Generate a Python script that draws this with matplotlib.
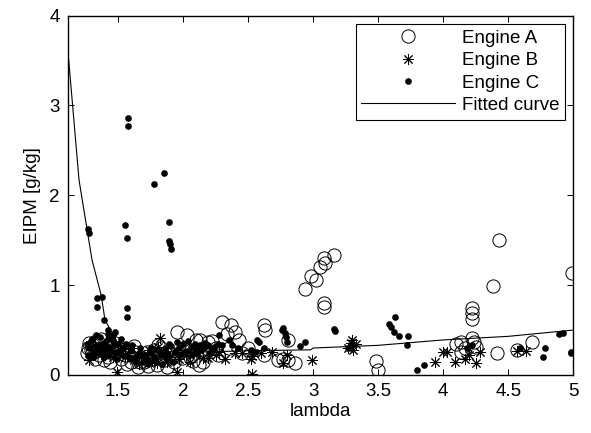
import matplotlib
matplotlib.use("Agg")
import matplotlib.pyplot as plt
import numpy as np

plt.rcParams['font.family'] = ['Liberation Sans', 'DejaVu Sans']

# ---------------- data ----------------
engine_a_lambda = [1.27,1.28,1.30,1.31,1.32,1.33,1.34,1.35,1.36,1.38,1.40,1.42,1.43,1.45,1.47,1.50,1.52,1.55,1.58,1.60,
                   1.62,1.65,1.68,1.70,1.72,1.75,1.77,1.80,1.81,1.83,1.85,1.88,1.90,1.92,1.95,1.97,2.00,2.03,2.05,2.08,
                   2.10,2.12,2.15,2.13,2.19,2.22,2.25,2.30,2.34,2.37,2.40,2.43,2.45,2.62,2.63,2.62,2.73,2.77,2.81,2.86,
                   2.81,2.94,2.98,3.02,3.05,3.08,3.09,3.16,3.08,3.08,3.48,3.50,4.43,4.38,4.22,4.22,4.22,4.14,4.22,4.24,
                   4.17,4.25,4.14,4.10,4.41,4.57,4.68,4.99,
                   1.26,1.29,1.37,1.39,1.44,1.48,1.53,1.57,1.63,1.67,1.73,1.78,1.86,1.93,1.99,2.06,2.17,2.27,2.50,2.35]
engine_a_eipm = [0.30,0.36,0.25,0.33,0.18,0.38,0.28,0.22,0.34,0.30,0.26,0.20,0.35,0.28,0.24,0.30,0.18,0.22,0.26,0.15,
                 0.32,0.09,0.20,0.14,0.26,0.18,0.22,0.11,0.33,0.30,0.17,0.09,0.24,0.20,0.48,0.24,0.30,0.44,0.20,0.16,
                 0.39,0.11,0.14,0.39,0.37,0.38,0.30,0.59,0.46,0.56,0.48,0.39,0.25,0.56,0.50,0.22,0.17,0.18,0.17,0.13,
                 0.39,0.96,1.10,1.06,1.20,1.30,1.25,1.34,0.80,0.76,0.16,0.06,1.50,0.99,0.75,0.69,0.62,0.37,0.41,0.37,
                 0.30,0.31,0.26,0.35,0.24,0.28,0.37,1.14,
                 0.24,0.28,0.40,0.17,0.14,0.36,0.29,0.12,0.26,0.14,0.10,0.28,0.24,0.15,0.19,0.28,0.24,0.22,0.30,0.30]

engine_b_lambda = [1.28,1.30,1.33,1.36,1.40,1.46,1.49,1.52,1.55,1.58,1.62,1.68,1.72,1.76,1.80,1.82,1.81,1.85,1.90,1.95,
                   1.97,2.02,2.08,2.15,2.19,2.25,2.32,2.40,2.45,2.52,2.53,2.53,2.60,2.68,2.77,2.80,2.99,3.27,3.29,3.31,
                   3.33,3.30,3.94,4.00,4.03,4.09,4.17,4.25,4.28,4.20,4.57,4.64,
                   1.32,1.38,1.44,1.60,1.66,1.74,1.88,2.05,2.12,2.28]
engine_b_eipm = [0.17,0.28,0.24,0.31,0.22,0.20,0.03,0.27,0.20,0.24,0.17,0.20,0.22,0.16,0.13,0.41,0.31,0.25,0.20,0.03,
                 0.18,0.22,0.25,0.19,0.19,0.22,0.18,0.24,0.25,0.18,0.01,0.21,0.24,0.26,0.13,0.22,0.17,0.30,0.36,0.28,
                 0.34,0.39,0.15,0.26,0.26,0.15,0.18,0.13,0.26,0.22,0.27,0.27,
                 0.32,0.27,0.28,0.30,0.12,0.28,0.15,0.15,0.28,0.26]

engine_c_lambda = [1.58,1.58,1.85,1.78,1.55,1.57,1.89,1.89,1.90,1.91,1.27,1.28,1.34,1.38,1.34,1.39,1.57,1.57,1.42,1.48,
                   1.26,1.28,1.30,1.32,1.34,1.36,1.38,1.40,1.42,1.44,1.46,1.48,1.50,1.52,1.54,1.57,1.60,1.63,1.66,1.69,
                   1.72,1.75,1.78,1.80,1.83,1.86,1.88,1.91,1.94,1.97,2.00,2.03,2.06,2.10,2.13,2.16,2.19,2.22,2.27,2.28,
                   2.35,2.38,2.42,2.52,2.55,2.57,2.58,2.62,2.77,2.78,2.79,2.80,2.76,2.90,2.94,3.16,3.17,3.27,3.30,3.58,
                   3.63,3.60,3.62,3.66,3.73,3.72,3.80,3.85,4.18,4.22,4.59,4.78,4.77,4.89,4.92,4.98,4.98,
                   1.27,1.29,1.31,1.33,1.35,1.37,1.39,1.41,1.43,1.45,1.47,1.49,1.51,1.53,1.56,1.59,1.61,1.64,1.67,1.70,
                   1.73,1.76,1.79,1.82,1.84,1.87,1.89,1.92,1.95,1.98,2.01,2.04,2.07,2.09,2.11,2.14,2.17,2.20,2.24,2.30,
                   1.42,1.46]
engine_c_eipm = [2.86,2.77,2.25,2.13,1.67,1.52,1.70,1.49,1.46,1.40,1.62,1.58,0.86,0.87,0.76,0.61,0.74,0.65,0.50,0.48,
                 0.35,0.30,0.40,0.26,0.33,0.42,0.28,0.36,0.40,0.30,0.38,0.25,0.34,0.40,0.30,0.22,0.28,0.20,0.24,0.15,
                 0.18,0.25,0.20,0.28,0.22,0.30,0.25,0.32,0.26,0.30,0.34,0.27,0.31,0.28,0.33,0.30,0.33,0.28,0.35,0.44,
                 0.39,0.33,0.30,0.28,0.26,0.39,0.37,0.30,0.52,0.47,0.42,0.37,0.50,0.32,0.37,0.51,0.49,0.30,0.33,0.57,
                 0.65,0.53,0.48,0.43,0.43,0.33,0.06,0.11,0.30,0.33,0.30,0.30,0.20,0.46,0.47,0.26,0.24,
                 0.22,0.38,0.20,0.44,0.25,0.35,0.20,0.30,0.24,0.42,0.33,0.18,0.27,0.22,0.35,0.18,0.33,0.14,0.30,0.22,
                 0.12,0.30,0.15,0.26,0.12,0.19,0.35,0.15,0.37,0.22,0.26,0.38,0.22,0.35,0.25,0.28,0.36,0.25,0.31,0.33,
                 0.46,0.45]

fit_lambda = [1.115,1.20,1.30,1.37,1.40,1.50,1.60,1.80,2.00,2.50,2.98,3.00,3.50,4.00,4.50,5.00]
fit_eipm   = [3.60,2.17,1.28,0.89,0.61,0.35,0.26,0.22,0.25,0.27,0.28,0.30,0.33,0.39,0.43,0.50]

x_ticks = [1.5, 2, 2.5, 3, 3.5, 4, 4.5, 5]
x_tick_labels = ["1.5", "2", "2.5", "3", "3.5", "4", "4.5", "5"]
y_ticks = [0, 1, 2, 3, 4]
y_tick_labels = ["0", "1", "2", "3", "4"]

# ---------------- figure ----------------
fig = plt.figure(figsize=(5.91, 4.33), dpi=100)
ax = fig.add_axes([0.115, 0.134, 0.855, 0.830])

fs = 13.5
ax.plot(engine_a_lambda, engine_a_eipm, linestyle='none', marker='o', markersize=9.5,
        markerfacecolor='none', markeredgecolor='black', markeredgewidth=0.7, label='Engine A')
ax.plot(engine_b_lambda, engine_b_eipm, linestyle='none', marker=(8, 2, 0), markersize=8,
        color='black', markeredgewidth=0.7, label='Engine B')
ax.plot(engine_c_lambda, engine_c_eipm, linestyle='none', marker='o', markersize=4.8,
        color='black', markeredgewidth=0, label='Engine C')
ax.plot(fit_lambda, fit_eipm, color='black', linewidth=0.8, label='Fitted curve')

ax.set_xlim(1.115, 5)
ax.set_ylim(0, 4)
ax.set_xticks(x_ticks)
ax.set_xticklabels(x_tick_labels)
ax.set_yticks(y_ticks)
ax.set_yticklabels(y_tick_labels)
ax.tick_params(direction='in', top=True, right=True, length=4, width=0.7, labelsize=fs, pad=6)
for s in ax.spines.values():
    s.set_linewidth(1.0)

ax.set_xlabel('lambda', fontsize=fs, labelpad=2)
ax.set_ylabel('EIPM [g/kg]', fontsize=fs, labelpad=6)

leg = ax.legend(loc='upper right', fontsize=fs, frameon=True, fancybox=False,
                edgecolor='black', framealpha=1, handlelength=5.0, handletextpad=0.35,
                borderaxespad=0.45, labelspacing=0.28, borderpad=0.3)
leg.get_frame().set_linewidth(0.8)

fig.savefig('out.png', dpi=100)
